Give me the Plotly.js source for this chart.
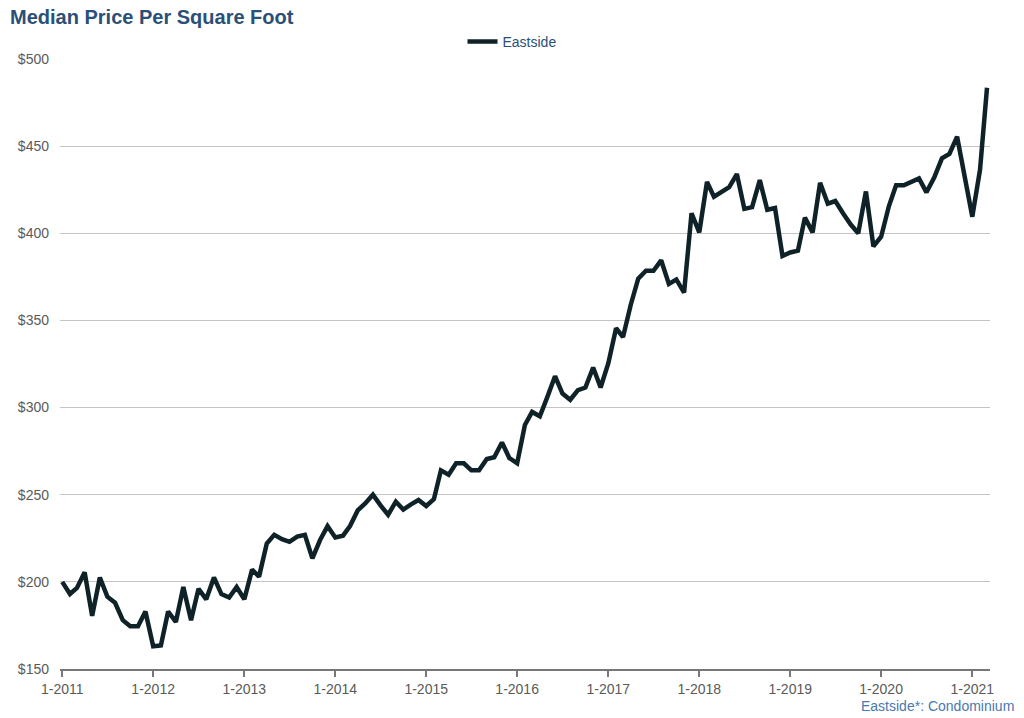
<!DOCTYPE html>
<html>
<head>
<meta charset="utf-8">
<script src="https://cdn.plot.ly/plotly-3.0.1.min.js"></script>
<style>html,body{margin:0;padding:0;background:#fff;}#chart{width:1024px;height:718px;}</style>
</head>
<body>
<div id="chart"></div>
<script>
const seriesName = "Eastside";
const startYear = 2011;
const prices = [
  200, 193, 196.5, 205.5, 180.5, 202.5, 191.5, 188, 178, 174.5, 174.5, 183,
  163, 163.5, 183, 177, 197, 178, 196, 190, 202.5, 193, 191, 197,
  190, 207, 203, 222, 227, 224.5, 223, 226, 227, 213.5, 224, 232,
  225.5, 226.5, 232, 241, 245, 250, 244, 238.5, 246, 241.5, 244.5, 247,
  243.5, 247.5, 264, 261.5, 268, 268, 264, 264, 270.5, 271.5, 280, 271,
  268, 290, 297.5, 295, 306, 318, 308, 304.5, 310, 311.5, 323, 311.5,
  325.5, 345.5, 340.5, 359, 374, 378.5, 378.5, 384.5, 371, 373.5, 366, 411.5,
  400.5, 429.5, 421, 423.5, 426.5, 434, 414, 415, 430.5, 413.5, 414.5, 387,
  389, 390, 409, 400.5, 429, 417, 418.5, 411.5, 405, 400, 424, 392.5,
  398, 415.5, 427.5, 427.5, 429.5, 431.5, 423.5, 432, 443, 445.5, 455.5, 434,
  409.5, 436.5, 483.5
];
const yTicks = [150, 200, 250, 300, 350, 400, 450, 500];
const yTickLabels = ["$150", "$200", "$250", "$300", "$350", "$400", "$450", "$500"];
const footnote = "Eastside*: Condominium";
const chartTitle = "Median Price Per Square Foot";

const months = prices.map((_, i) => {
  const y = startYear + Math.floor(i / 12);
  const m = (i % 12) + 1;
  return y + "-" + String(m).padStart(2, "0") + "-01";
});

const trace = {
  x: months,
  y: prices,
  type: "scatter",
  mode: "lines",
  name: seriesName,
  line: {color: "#0e2228", width: 4.5}
};

const W = 1024, H = 718;
const layout = {
  width: W,
  height: H,
  paper_bgcolor: "#fff",
  plot_bgcolor: "#fff",
  margin: {l: 60, r: 34, t: 59, b: 49},
  font: {family: "Liberation Sans, Arial, sans-serif", color: "#5a5a5a"},
  title: {
    text: "<b>" + chartTitle + "</b>",
    font: {size: 20, color: "#2b5077", family: "Liberation Sans, Arial, sans-serif"},
    x: 10 / W, xref: "container", xanchor: "left",
    y: 1 - 17 / H, yref: "container", yanchor: "middle"
  },
  showlegend: true,
  legend: {
    orientation: "h",
    xref: "container", x: 0.5, xanchor: "center",
    yref: "container", y: 1 - 42 / H, yanchor: "middle",
    font: {size: 14, color: "#2b5077"}
  },
  xaxis: {
    type: "date",
    range: ["2010-12-23", "2021-03-13"],
    dtick: "M12",
    tick0: "2011-01-01",
    tickformat: "%-m-%Y",
    ticks: "outside",
    ticklen: 6,
    tickwidth: 2,
    tickcolor: "#777",
    showline: true,
    linecolor: "#777",
    linewidth: 2,
    showgrid: false,
    zeroline: false,
    tickfont: {size: 14, color: "#5a5a5a"}
  },
  yaxis: {
    range: [150, 500],
    tickvals: yTicks,
    ticktext: yTickLabels,
    showgrid: true,
    gridcolor: "#c4c4c4",
    gridwidth: 1,
    zeroline: false,
    showline: false,
    ticks: "",
    ticklabelstandoff: 10,
    tickfont: {size: 14, color: "#5a5a5a"}
  },
  annotations: [{
    text: footnote,
    xref: "paper", yref: "paper",
    x: (1016 - 60) / (W - 60 - 34), y: -(706 - 669) / (669 - 59),
    xanchor: "right", yanchor: "middle",
    showarrow: false,
    font: {size: 14, color: "#4a78b0"}
  }]
};

Plotly.newPlot("chart", [trace], layout, {displayModeBar: false, staticPlot: true});
</script>
</body>
</html>
